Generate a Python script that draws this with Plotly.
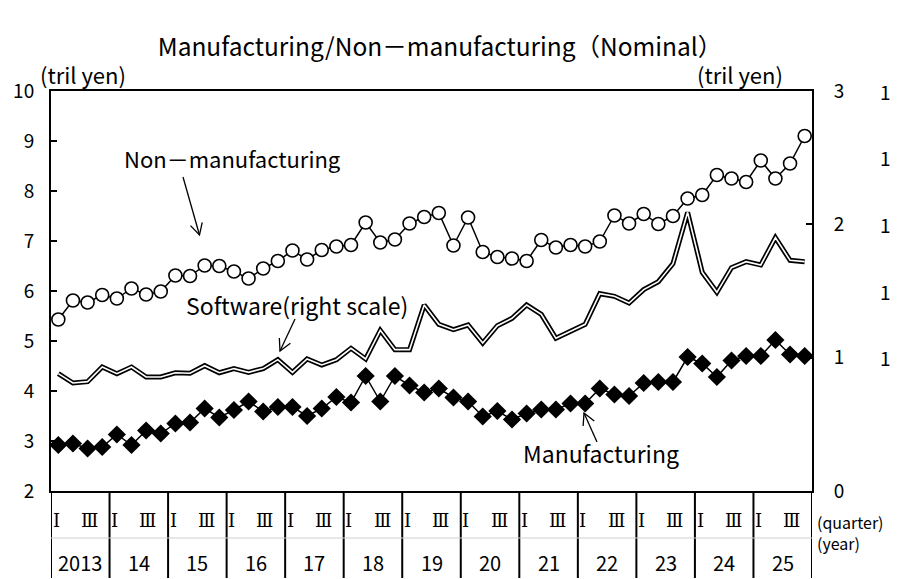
import math
import plotly.graph_objects as go

years = ["2013", "14", "15", "16", "17", "18", "19", "20", "21", "22", "23", "24", "25"]
quarter_labels = ["Ⅰ", "Ⅲ"]
quarter_label_pos = [0, 2]

non_manufacturing = [5.43, 5.81, 5.77, 5.92, 5.85, 6.05, 5.93, 5.99,
                     6.31, 6.30, 6.51, 6.50, 6.39, 6.25, 6.45, 6.60,
                     6.81, 6.63, 6.82, 6.89, 6.92, 7.37, 6.97, 7.03,
                     7.35, 7.48, 7.56, 6.91, 7.47, 6.78, 6.68, 6.65,
                     6.60, 7.02, 6.87, 6.92, 6.89, 6.99, 7.51, 7.35,
                     7.54, 7.34, 7.50, 7.85, 7.92, 8.32, 8.25, 8.18,
                     8.61, 8.25, 8.55, 9.10]

manufacturing = [2.92, 2.95, 2.85, 2.88, 3.13, 2.92, 3.21, 3.15,
                 3.35, 3.37, 3.65, 3.47, 3.62, 3.79, 3.59, 3.68,
                 3.68, 3.50, 3.65, 3.88, 3.77, 4.30, 3.79, 4.30,
                 4.11, 3.97, 4.05, 3.87, 3.79, 3.49, 3.60, 3.43,
                 3.55, 3.63, 3.63, 3.75, 3.75, 4.05, 3.93, 3.90,
                 4.16, 4.18, 4.18, 4.68, 4.55, 4.28, 4.61, 4.70,
                 4.70, 5.02, 4.73, 4.70]

software = [0.88, 0.81, 0.82, 0.93, 0.88, 0.93, 0.855, 0.855,
            0.887, 0.883, 0.94, 0.887, 0.918, 0.89, 0.918, 0.985,
            0.89, 0.99, 0.945, 0.985, 1.07, 0.99, 1.205, 1.06,
            1.06, 1.395, 1.25, 1.21, 1.245, 1.11, 1.24, 1.295,
            1.395, 1.325, 1.145, 1.20, 1.25, 1.48, 1.46, 1.41,
            1.51, 1.57, 1.705, 2.09, 1.64, 1.49, 1.675, 1.72,
            1.695, 1.90, 1.73, 1.72]

left_ticks = [2, 3, 4, 5, 6, 7, 8, 9, 10]
right_ticks = [0, 1, 2, 3]
extra_right_vals = [3, 2.5, 2, 1.5, 1]
extra_right_text = ["1", "1", "1", "1", "1"]

n = len(non_manufacturing)
xs = list(range(n))

FONT = "Noto Sans CJK JP"
SERIF = "DejaVu Serif, Noto Sans CJK JP"
OFF = 8  # page body margin
W, H = 901 - OFF, 579 - OFF
# plot area in reference pixel coordinates
L, R, T, B = 51, 812, 91, 491
QW = (R - L) / n


def px(x, y):
    return ((x - L) / QW - 0.5, 2 + (B - y) / 50.0)


def pxp(x, y):
    return ((x - L) / (R - L), (B - y) / (B - T))


fig = go.Figure()

fig.add_trace(go.Scatter(x=xs, y=software, yaxis="y2", mode="lines",
                         line=dict(color="black", width=5), hoverinfo="skip", showlegend=False))
fig.add_trace(go.Scatter(x=xs, y=software, yaxis="y2", mode="lines",
                         line=dict(color="white", width=1.6), showlegend=False))

fig.add_trace(go.Scatter(x=xs, y=non_manufacturing, mode="lines+markers",
                         line=dict(color="black", width=1.5),
                         marker=dict(symbol="circle", size=13, color="white",
                                     line=dict(color="black", width=1.6)),
                         showlegend=False))

fig.add_trace(go.Scatter(x=xs, y=manufacturing, mode="lines+markers",
                         line=dict(color="black", width=1.5),
                         marker=dict(symbol="diamond", size=14, color="black",
                                     line=dict(color="black", width=0)),
                         showlegend=False))

shapes = []
annotations = []

for k in range(len(years) + 1):
    shapes.append(dict(type="line", xref="x", yref="paper", x0=-0.5 + 4 * k, x1=-0.5 + 4 * k,
                       y0=0, y1=pxp(0, 578)[1], line=dict(color="black", width=2)))
shapes.append(dict(type="line", xref="x", yref="paper", x0=-0.5, x1=n - 0.5,
                   y0=pxp(0, 538)[1], y1=pxp(0, 538)[1],
                   line=dict(color="#d0d0d0", width=1)))

for k, yr in enumerate(years):
    annotations.append(dict(x=4 * k + 1.5, y=pxp(0, 562)[1], xref="x", yref="paper",
                            text=yr, showarrow=False, font=dict(family=FONT, size=20, color="black"),
                            xanchor="center", yanchor="middle"))
    for qi, ql in zip(quarter_label_pos, quarter_labels):
        annotations.append(dict(x=4 * k + qi - (0.15 if qi == 0 else -0.12), y=pxp(0, 520)[1],
                                xref="x", yref="paper", text=ql, showarrow=False,
                                font=dict(family=SERIF, size=18, color="black"),
                                xanchor="center", yanchor="middle"))

qx, qy = pxp(815, 532)
annotations.append(dict(x=qx, y=qy, xref="paper", yref="paper",
                        text="(quarter)<br>(year)", showarrow=False, xanchor="left",
                        yanchor="middle", align="left",
                        font=dict(family=FONT, size=16, color="black")))

for v, t in zip(extra_right_vals, extra_right_text):
    annotations.append(dict(x=pxp(878, 0)[0], y=v, xref="paper", yref="y2", text=t,
                            showarrow=False, xanchor="left", yanchor="middle",
                            font=dict(family=FONT, size=19, color="black")))

for cx in (83, 740):
    ux, uy = pxp(cx, 74)
    annotations.append(dict(x=ux, y=uy, xref="paper", yref="paper",
                            text="(tril yen)", showarrow=False, xanchor="center", yanchor="middle",
                            font=dict(family=FONT, size=22, color="black")))


def label(text, cx, cy, size):
    x, y = px(cx, cy)
    annotations.append(dict(x=x, y=y, xref="x", yref="y", text=text, showarrow=False,
                            xanchor="center", yanchor="middle",
                            font=dict(family=FONT, size=size, color="black")))


label("Non－manufacturing", 232, 158, 22)
label("Software(right scale)", 297, 305, 23)
label("Manufacturing", 601, 453, 23)


def arrow(tail, tip, length=13, ang=28):
    dx, dy = tip[0] - tail[0], tip[1] - tail[1]
    d = math.hypot(dx, dy)
    ux, uy = dx / d, dy / d
    pts = []
    for s in (1, -1):
        a = math.radians(ang * s)
        rx = ux * math.cos(a) - uy * math.sin(a)
        ry = ux * math.sin(a) + uy * math.cos(a)
        pts.append((tip[0] - length * rx, tip[1] - length * ry))
    t0 = px(*tail)
    t1 = px(*tip)
    w1 = px(*pts[0])
    w2 = px(*pts[1])
    shapes.append(dict(type="line", xref="x", yref="y", x0=t0[0], y0=t0[1], x1=t1[0], y1=t1[1],
                       line=dict(color="black", width=1.3)))
    shapes.append(dict(type="path", xref="x", yref="y",
                       path=f"M{w1[0]},{w1[1]} L{t1[0]},{t1[1]} L{w2[0]},{w2[1]}",
                       line=dict(color="black", width=1.3)))


arrow((183, 177), (199.5, 235))
arrow((295, 319), (280, 351))
arrow((597, 442), (584, 413))

fig.update_layout(
    width=W, height=H,
    margin=dict(l=L - OFF, r=901 - R, t=T - OFF, b=579 - B, autoexpand=False),
    paper_bgcolor="white", plot_bgcolor="white",
    title=dict(text="Manufacturing/Non－manufacturing（Nominal）", x=(440 - OFF) / W,
               xanchor="center", y=1 - (47 - OFF) / H, yanchor="middle",
               font=dict(family=FONT, size=24.5, color="black")),
    xaxis=dict(range=[-0.5, n - 0.5], showticklabels=False, ticks="", showgrid=False,
               zeroline=False, showline=True, linecolor="black", linewidth=2, mirror=True,
               automargin=False),
    yaxis=dict(range=[2, 10], tickvals=left_ticks, ticks="inside", ticklen=6, tickwidth=1.5,
               tickcolor="black", showgrid=False, zeroline=False, showline=True, linecolor="black",
               linewidth=2, ticklabelstandoff=11, automargin=False,
               tickfont=dict(family=FONT, size=19, color="black")),
    yaxis2=dict(range=[0, 3], tickvals=right_ticks, overlaying="y", side="right", ticks="inside",
                ticklen=6, tickwidth=1.5, tickcolor="black", showgrid=False, zeroline=False,
                showline=True, linecolor="black", linewidth=2, ticklabelstandoff=16,
                automargin=False,
                tickfont=dict(family=FONT, size=19, color="black")),
    shapes=shapes,
    annotations=annotations,
)

fig.write_html("out.html")
